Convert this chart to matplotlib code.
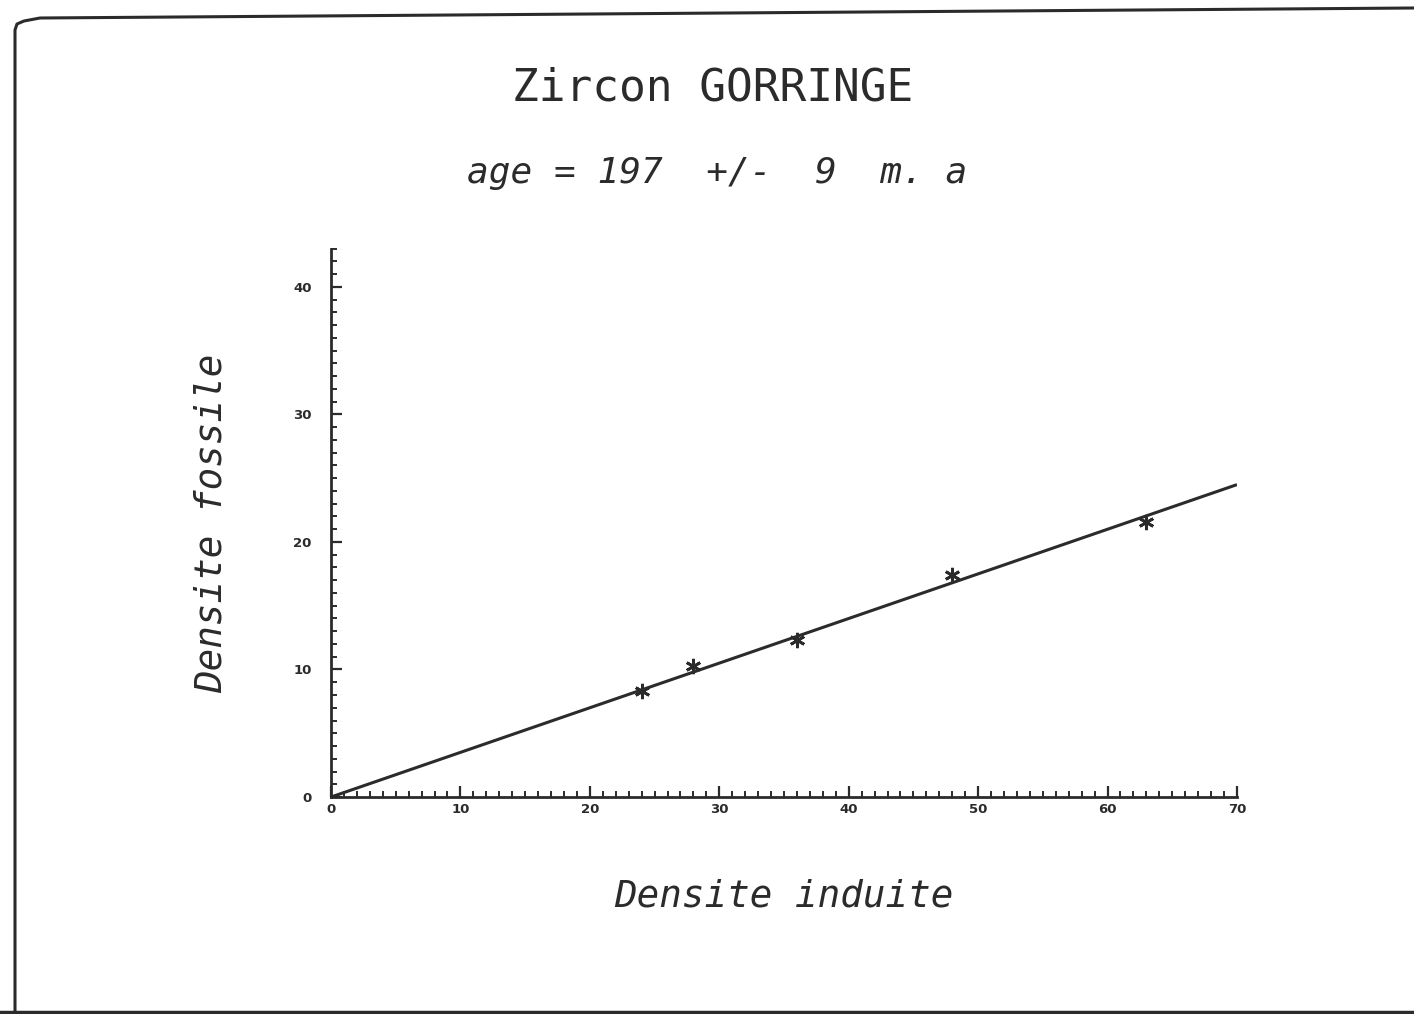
import matplotlib.pyplot as plt
import numpy as np
from matplotlib.lines import Line2D
from matplotlib.ticker import MultipleLocator

# induced vs fossil track densities
densite_induite = np.array([24, 28, 36, 48, 63])
densite_fossile = np.array([8.3, 10.3, 12.3, 17.4, 21.6])

# slope of the isochron through the origin
pente = 0.35

x_ticks = [0, 10, 20, 30, 40, 50, 60, 70]
y_ticks = [0, 10, 20, 30, 40]

mono = 'DejaVu Sans Mono'
ink = '#2b2b2b'

fig = plt.figure(figsize=(14.14, 10.14), dpi=100)
ax = fig.add_axes([0.2341, 0.2140, 0.6407, 0.5407])

# fitted line and data points
xl = np.array([0, 70])
ax.plot(xl, pente * xl, color=ink, linewidth=2.2, solid_capstyle='butt', zorder=2)
ax.plot(densite_induite, densite_fossile, linestyle='none', marker=(6, 2, 0),
        markersize=11, markeredgewidth=2.0, color=ink, zorder=3)

ax.set_xlim(0, 70)
ax.set_ylim(0, 43)
ax.margins(0)

for s in ['top', 'right']:
    ax.spines[s].set_visible(False)
for s in ['left', 'bottom']:
    ax.spines[s].set_linewidth(2.0)
    ax.spines[s].set_color(ink)

ax.set_xticks(x_ticks)
ax.set_yticks(y_ticks)
ax.xaxis.set_minor_locator(MultipleLocator(1))
ax.yaxis.set_minor_locator(MultipleLocator(1))
ax.tick_params(which='major', direction='in', length=8, width=1.6, color=ink)
ax.tick_params(which='minor', direction='in', length=4.5, width=1.4, color=ink)
ax.tick_params(axis='x', pad=4)
ax.tick_params(axis='y', pad=14)
for lab in ax.get_xticklabels() + ax.get_yticklabels():
    lab.set_fontweight('bold')
    lab.set_fontsize(9.5)
    lab.set_color(ink)

ax.set_xlabel('Densite induite', fontfamily=mono, fontstyle='oblique',
              fontsize=27, color=ink, labelpad=45)
ax.set_ylabel('Densite fossile', fontfamily=mono, fontstyle='oblique',
              fontsize=27, color=ink, labelpad=46)

# titles
fig.text(0.504, 0.913, 'Zircon GORRINGE', fontfamily=mono, fontsize=32,
         color=ink, ha='center', va='center')
fig.text(0.507, 0.829, 'age = 197  +/-  9  m. a', fontfamily=mono,
         fontstyle='oblique', fontsize=26, color=ink, ha='center', va='center')

# page frame: rounded top-left corner, top and bottom edges
fx = np.array([15, 15, 17, 24, 40, 1414]) / 1414
fy = 1 - np.array([1014, 30, 24, 21, 18, 8]) / 1014
fig.add_artist(Line2D(fx, fy, color=ink, linewidth=2.2, transform=fig.transFigure))
fig.add_artist(Line2D([0, 1], [1 - 1012 / 1014] * 2, color=ink, linewidth=2.5,
                      transform=fig.transFigure))

fig.savefig('out.png', dpi=100)
